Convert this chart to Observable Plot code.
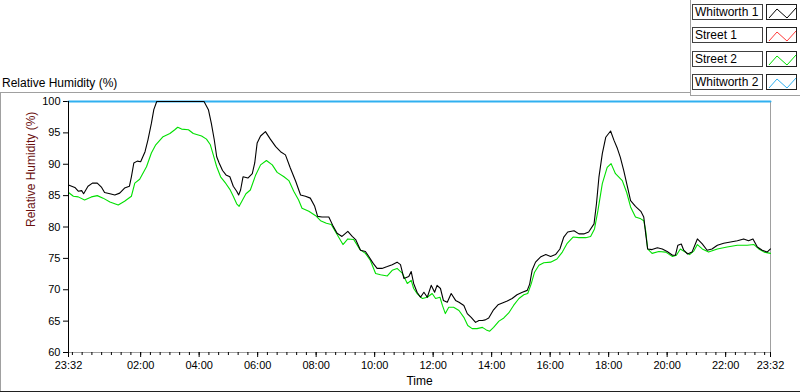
<!DOCTYPE html>
<html>
<head>
<meta charset="utf-8">
<script src="https://cdn.jsdelivr.net/npm/d3@7"></script>
<script src="https://cdn.jsdelivr.net/npm/@observablehq/plot@0.6"></script>
<style>
html, body { margin: 0; padding: 0; background: #fff; }
#wrap { position: relative; width: 800px; height: 392px; overflow: hidden; font-family: "Liberation Sans", Arial, sans-serif; }
#chart { position: absolute; left: 0; top: 0; }
#title { position: absolute; left: 2px; top: 76px; font-size: 12px; line-height: 14px; color: #000; white-space: nowrap; }
.ln { position: absolute; }
.legtxt { position: absolute; box-sizing: border-box; width: 71px; height: 16px; border: 1px solid #404040; background: #fff; font-size: 12px; line-height: 14px; padding-left: 2px; color: #000; white-space: nowrap; }
.legsw { position: absolute; box-sizing: border-box; width: 31px; height: 16px; border: 1px solid #202020; background: #fff; }
.legsw svg { position: absolute; left: 0; top: 0; }
</style>
</head>
<body>
<div id="wrap">
  <div id="title">Relative Humidity (%)</div>
  <div class="ln" style="left:0;top:92px;width:690px;height:1px;background:#a0a0a0"></div>
  <div class="ln" style="left:690px;top:0;width:1px;height:95px;background:#a0a0a0"></div>
  <div class="ln" style="left:690px;top:95px;width:110px;height:1px;background:#a0a0a0"></div>
  <div class="ln" style="left:0;top:92px;width:1px;height:300px;background:#a0a0a0"></div>
  <div class="ln" style="left:0;top:391px;width:800px;height:1px;background:#202020"></div>
  <div id="chart"></div>
</div>
<script>
// ---------- data ----------
const startClock = "23:32";
const seriesNames = ["Whitworth 1", "Street 1", "Street 2", "Whitworth 2"];
const seriesColors = ["#000000", "#ff3a3a", "#00e000", "#30b0f0"];
const yTicks = [60, 65, 70, 75, 80, 85, 90, 95, 100];
const xTickLabels = ["23:32", "02:00", "04:00", "06:00", "08:00", "10:00", "12:00", "14:00", "16:00", "18:00", "20:00", "22:00", "23:32"];
const yLabel = "Relative Humidity (%)";
const xLabel = "Time";

// minutes elapsed since 23:32
const whit1Min = [0,13,20,27,31,40,49,59,68,74,85,95,105,115,125,129,134,141,148,157,163,170,175,181,278,287,293,299,304,309,316,323,331,338,345,349,353,358,364,368,377,382,387,394,404,414,425,435,445,455,466,476,486,496,505,511,520,534,543,551,561,573,582,589,599,609,616,625,633,643,654,664,674,681,688,698,703,708,715,722,729,736,744,751,756,763,769,777,785,794,801,811,818,826,835,842,849,855,862,871,881,890,900,910,920,931,941,946,951,958,968,979,989,999,1008,1016,1024,1037,1047,1057,1067,1078,1083,1088,1095,1102,1112,1119,1126,1132,1139,1146,1153,1163,1174,1180,1184,1188,1197,1208,1218,1228,1239,1245,1250,1257,1262,1270,1279,1290,1300,1310,1320,1331,1344,1358,1372,1385,1395,1404,1413,1423,1433,1440];
const whit1Val = [86.7,86.3,85.7,85.8,85.3,86.5,87.0,87.0,86.3,85.5,85.3,85.1,85.4,86.2,86.5,88.0,90.2,90.5,90.4,92.0,93.9,96.5,98.7,100,100,98.7,96.5,93.9,91.2,90.2,89.0,88.3,88.0,86.5,85.7,85.1,85.9,88.0,87.9,87.8,88.5,90.2,93.4,94.5,95.2,94.0,92.8,92.0,91.5,89.4,87.3,85.1,84.9,84.6,83.3,81.7,81.6,81.6,80.1,79.0,78.5,79.3,78.5,78.0,76.3,76.1,75.3,74.2,73.4,73.4,73.7,74.0,74.4,74.0,71.8,72.1,72.9,71.0,69.6,68.8,69.6,68.8,70.7,69.6,70.7,70.2,68.3,68.0,69.4,68.3,68.0,67.5,66.2,65.6,64.8,65.1,65.1,65.2,65.5,66.7,67.6,67.9,68.2,68.6,69.2,69.6,69.9,70.9,73.1,74.4,75.2,75.6,75.3,75.6,76.5,78.4,79.2,79.4,78.9,78.9,79.2,80.5,83.7,87.9,91.7,94.3,95.3,93.8,92.5,91.1,89.0,86.6,84.2,83.3,82.5,81.6,78.9,76.5,76.4,76.7,76.5,76.1,75.5,75.5,77.1,77.3,76.3,75.7,76.0,78.1,77.3,76.3,76.5,77.1,77.4,77.6,77.8,78.1,77.8,78.1,76.8,76.3,76.0,76.5];

const street2Min = [0,10,20,33,47,59,71,85,102,115,129,136,146,160,170,179,194,208,218,224,232,246,256,273,283,291,297,304,312,323,331,338,345,350,357,364,373,384,394,406,418,428,442,452,462,472,479,493,507,517,529,539,551,563,573,585,598,609,619,630,640,654,664,674,685,695,703,708,715,726,736,746,753,762,767,773,780,790,801,811,819,828,838,849,857,864,872,883,893,903,913,924,934,942,949,956,965,975,989,1002,1013,1023,1035,1047,1061,1071,1079,1086,1095,1105,1113,1122,1136,1145,1153,1163,1174,1180,1184,1188,1197,1211,1225,1239,1247,1255,1265,1274,1283,1290,1300,1313,1331,1351,1372,1392,1406,1416,1427,1440];
const street2Val = [85.5,84.9,84.8,84.3,84.8,85.0,84.6,84.0,83.5,84.1,84.9,87.0,87.6,89.6,91.8,93.1,94.4,94.9,95.5,95.9,95.6,95.5,94.9,94.5,94.0,93.1,91.5,89.6,88.0,86.9,86.0,84.9,83.7,83.3,84.3,85.3,85.9,88.3,89.9,90.6,89.9,88.7,88.0,87.4,85.7,84.3,83.0,82.5,81.8,81.0,80.6,80.4,78.8,77.2,78.1,78.0,76.4,75.8,74.7,72.6,72.4,72.2,73.1,73.4,72.6,71.0,71.5,70.2,69.4,68.6,68.8,69.4,68.6,68.8,67.5,66.2,67.2,67.2,66.7,65.6,64.3,63.8,63.8,64.0,63.6,63.4,64.0,65.0,65.5,66.3,67.5,68.6,69.2,69.4,70.9,72.8,73.9,74.3,74.4,74.9,76.0,77.4,78.4,78.3,78.3,78.5,79.7,82.6,86.9,89.5,90.1,88.5,87.4,85.5,83.2,81.6,81.3,81.0,79.4,76.5,75.8,76.1,76.0,75.3,75.5,76.5,76.0,75.6,76.2,77.2,76.5,76.0,76.5,76.8,77.1,77.1,77.2,76.5,76.0,75.8];

const whit2Min = [0, 1440];
const whit2Val = [100, 100];

// ---------- build ----------
const [sh, sm] = startClock.split(":").map(Number);
const start = Date.UTC(2000, 0, 1, sh, sm);
const toDate = m => new Date(start + m * 60000);
const mk = (mins, vals, name) => mins.map((m, i) => ({t: toDate(m), v: vals[i], s: name}));
const dWhit1 = mk(whit1Min, whit1Val, seriesNames[0]);
const dStreet2 = mk(street2Min, street2Val, seriesNames[2]);
const dWhit2 = mk(whit2Min, whit2Val, seriesNames[3]);

const startMin = sh * 60 + sm;
const majorTicks = xTickLabels.map((lab, i) => {
  const [h, mm] = lab.split(":").map(Number);
  let off = ((h * 60 + mm) - startMin + 1440) % 1440;
  if (i === xTickLabels.length - 1) off = 1440;
  return toDate(off);
});
const tickLabelOf = new Map(majorTicks.map((d, i) => [+d, xTickLabels[i]]));
const minorTicks = d3.utcMinute.every(20).range(toDate(0), toDate(1440));

const fnt = "'Liberation Sans', Arial, sans-serif";
const chart = Plot.plot({
  width: 800, height: 392,
  marginLeft: 68, marginRight: 30, marginTop: 101, marginBottom: 40,
  style: {fontFamily: fnt, fontSize: "11px", background: "transparent", color: "#000"},
  x: {type: "utc", domain: [toDate(0), toDate(1440)]},
  y: {domain: [60, 100]},
  color: {domain: seriesNames, range: seriesColors},
  marks: [
    Plot.frame({stroke: "#a0a0a0"}),
    Plot.axisX({ticks: minorTicks, tickSize: 3, tickFormat: () => "", stroke: "#000", label: null}),
    Plot.axisX({ticks: majorTicks, tickSize: 5, tickPadding: 4, tickFormat: d => tickLabelOf.get(+d), stroke: "#000", fill: "#000", label: null}),
    Plot.axisY({ticks: yTicks, tickSize: 5, tickPadding: 3, stroke: "#000", fill: "#000", label: null}),
    Plot.text([yLabel], {frameAnchor: "left", dx: -37, rotate: -90, fill: "#6a1010", fontSize: 12}),
    Plot.text([xLabel], {frameAnchor: "bottom", dy: 32, fill: "#000", fontSize: 12}),
    Plot.line(dWhit2, {x: "t", y: "v", stroke: "s", strokeWidth: 2}),
    Plot.line(dStreet2, {x: "t", y: "v", stroke: "s", strokeWidth: 1.1}),
    Plot.line(dWhit1, {x: "t", y: "v", stroke: "s", strokeWidth: 1.1}),
    Plot.ruleX([toDate(0)], {stroke: "#000"})
  ]
});
document.getElementById("chart").appendChild(chart);

// ---------- legend ----------
const wrap = document.getElementById("wrap");
const rowTops = [4, 27, 51, 74];
seriesNames.forEach((name, i) => {
  const tb = document.createElement("div");
  tb.className = "legtxt";
  tb.style.left = "692px";
  tb.style.top = rowTops[i] + "px";
  tb.textContent = name;
  wrap.appendChild(tb);
  const sw = document.createElement("div");
  sw.className = "legsw";
  sw.style.left = "766px";
  sw.style.top = rowTops[i] + "px";
  sw.innerHTML = `<svg width="31" height="16"><polyline points="2,13 10,4 20,13 29,3" fill="none" stroke="${seriesColors[i]}" stroke-width="1"/></svg>`;
  wrap.appendChild(sw);
});
</script>
</body>
</html>
